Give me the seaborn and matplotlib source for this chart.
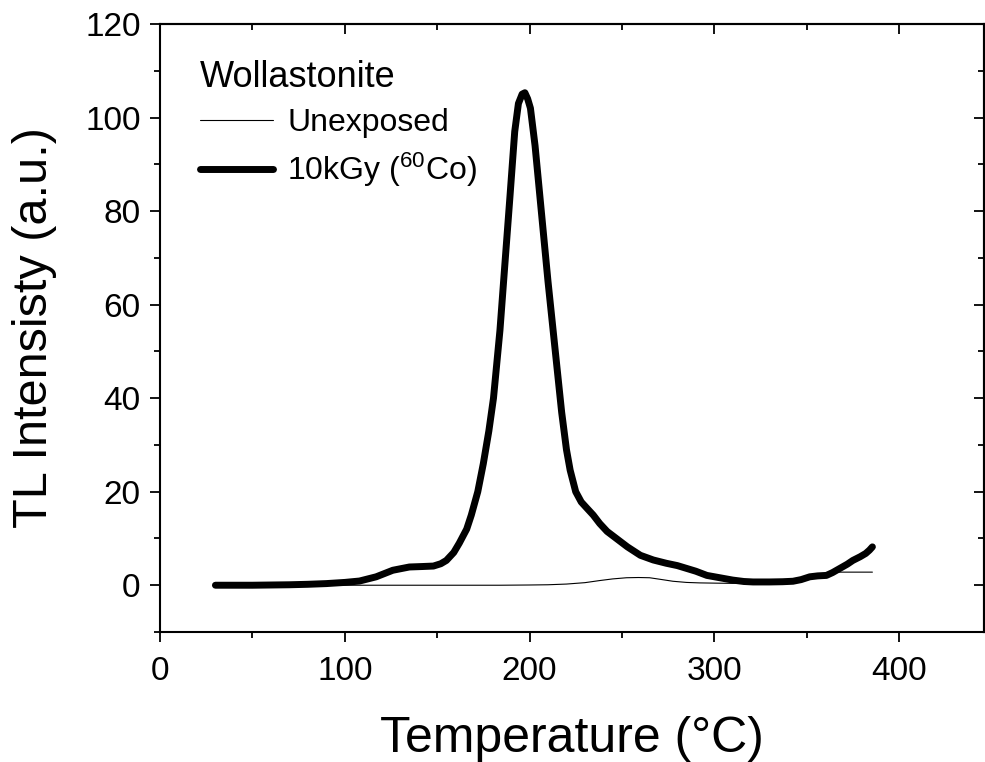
import numpy as np
import pandas as pd
import matplotlib
matplotlib.use("Agg")
import matplotlib.pyplot as plt
from matplotlib.ticker import MultipleLocator
import seaborn as sns

# ---- data ----
temp_exposed = [30, 40, 50, 60, 70, 80, 90, 100, 108, 117, 126, 135, 142, 148, 152, 155, 159, 162,
                166, 168.5, 172, 175, 178, 180.5, 184, 186.7, 189.4, 192, 194, 196, 197.5, 199,
                200.5, 203, 206.5, 210, 213.7, 217.4, 220, 222, 225, 228, 231, 234.5, 238, 242,
                247, 253, 260, 267, 274, 280, 285, 290, 296, 303, 310, 316, 321, 330, 337, 342.6,
                347, 351.7, 356, 360.7, 364, 368, 372, 375, 379, 382, 384, 385.6]
tl_exposed = [0, 0, 0, 0.05, 0.1, 0.2, 0.35, 0.6, 0.9, 1.8, 3.2, 3.9, 4.0, 4.1, 4.6, 5.3, 7, 9,
              12, 15, 20, 26, 33, 40, 54.5, 68.8, 83, 97, 103, 105, 105.3, 104,
              102, 94, 79.5, 65, 51, 37, 29, 24.6, 20, 17.8, 16.5, 15, 13.2, 11.5,
              10, 8.2, 6.4, 5.4, 4.7, 4.2, 3.6, 3.0, 2.1, 1.6, 1.1, 0.8, 0.7, 0.7, 0.75, 0.85,
              1.2, 1.8, 2.0, 2.1, 2.7, 3.6, 4.5, 5.3, 6.1, 6.8, 7.5, 8.2]

temp_unexposed = [30, 60, 100, 150, 184, 200, 210, 220, 230, 238, 245, 252.5, 259, 265, 271,
                  277.6, 285, 292, 300, 310, 320, 330, 340, 350, 358, 365, 375, 385.6]
tl_unexposed = [0, 0, 0, 0, 0, 0.05, 0.1, 0.25, 0.55, 1.0, 1.35, 1.6, 1.65, 1.6, 1.25,
                0.85, 0.6, 0.5, 0.45, 0.4, 0.5, 0.8, 1.2, 1.8, 2.4, 2.8, 2.8, 2.8]

legend_title = "Wollastonite"
label_unexposed = "Unexposed"
label_exposed = r"10kGy ($\mathregular{^{60}}$Co)"
x_label = "Temperature (°C)"
y_label = "TL Intensisty (a.u.)"

# ---- style ----
sns.set_style("ticks")
plt.rcParams["font.family"] = ["Liberation Sans", "DejaVu Sans"]
plt.rcParams["mathtext.fontset"] = "custom"
plt.rcParams["mathtext.rm"] = "Liberation Sans"
plt.rcParams["mathtext.it"] = "Liberation Sans:italic"
plt.rcParams["text.color"] = "black"
plt.rcParams["axes.labelcolor"] = "black"
plt.rcParams["xtick.color"] = "black"
plt.rcParams["ytick.color"] = "black"

fig = plt.figure(figsize=(9.85, 7.62), dpi=100)
ax = fig.add_axes([160 / 985, 1 - 632 / 762, 824 / 985, 608 / 762])

df_u = pd.DataFrame({"T": temp_unexposed, "I": tl_unexposed})
df_e = pd.DataFrame({"T": temp_exposed, "I": tl_exposed})

sns.lineplot(data=df_u, x="T", y="I", ax=ax, color="black", lw=0.8,
             label=label_unexposed, sort=False, estimator=None)
sns.lineplot(data=df_e, x="T", y="I", ax=ax, color="black", lw=5,
             label=label_exposed, sort=False, estimator=None,
             solid_capstyle="round", solid_joinstyle="round")

ax.set_xlim(0, 446)
ax.set_ylim(-10, 120)
ax.xaxis.set_major_locator(MultipleLocator(100))
ax.xaxis.set_minor_locator(MultipleLocator(50))
ax.yaxis.set_major_locator(MultipleLocator(20))
ax.yaxis.set_minor_locator(MultipleLocator(10))

for s in ax.spines.values():
    s.set_visible(True)
    s.set_linewidth(1.5)
    s.set_color("black")

ax.tick_params(which="major", direction="out", length=7, width=1.3, labelsize=24,
               colors="black", pad=7)
ax.tick_params(axis="x", which="major", pad=10)
ax.tick_params(which="minor", direction="out", length=4, width=1.3)

# inward ticks on top and right
top = ax.secondary_xaxis("top")
top.xaxis.set_major_locator(MultipleLocator(100))
top.xaxis.set_minor_locator(MultipleLocator(50))
top.tick_params(which="major", direction="in", length=7, width=1.3, labeltop=False)
top.tick_params(which="minor", direction="in", length=4, width=1.3)
top.spines["top"].set_linewidth(1.5)
right = ax.secondary_yaxis("right")
right.yaxis.set_major_locator(MultipleLocator(20))
right.yaxis.set_minor_locator(MultipleLocator(10))
right.tick_params(which="major", direction="in", length=7, width=1.3, labelright=False)
right.tick_params(which="minor", direction="in", length=4, width=1.3)
right.spines["right"].set_linewidth(1.5)

ax.set_xlabel(x_label, fontsize=36, labelpad=21)
ax.set_ylabel(y_label, fontsize=35, labelpad=20)

leg = ax.legend(title=legend_title, loc="upper left", bbox_to_anchor=(0.0485, 0.94),
                frameon=False, fontsize=23, title_fontsize=26, alignment="left",
                handlelength=2.3, handletextpad=0.43, labelspacing=0.4,
                borderaxespad=0, borderpad=0)

fig.savefig("out.png", dpi=100)
